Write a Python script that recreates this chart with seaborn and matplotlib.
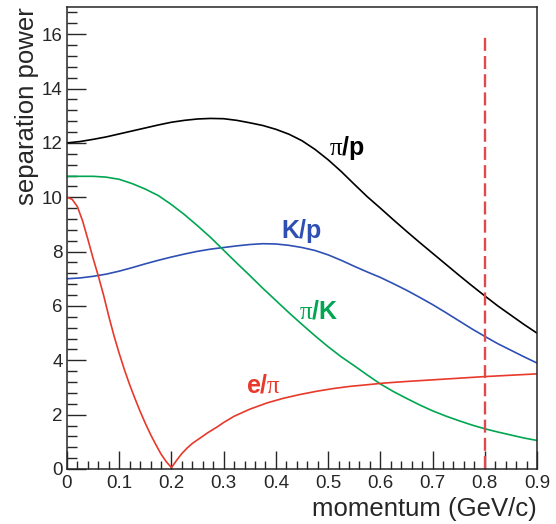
import numpy as np
import pandas as pd
import matplotlib
matplotlib.use("Agg")
import matplotlib.pyplot as plt
from matplotlib.ticker import MultipleLocator, FuncFormatter
import seaborn as sns

# Valores (momento em GeV/c)
momentum = [0.0, 0.025, 0.05, 0.075, 0.1, 0.125, 0.15, 0.175, 0.2, 0.225,
            0.25, 0.275, 0.3, 0.325, 0.35, 0.375, 0.4, 0.425, 0.45, 0.475,
            0.5, 0.525, 0.55, 0.575, 0.6, 0.625, 0.65, 0.675, 0.7, 0.725,
            0.75, 0.775, 0.8, 0.825, 0.85, 0.875, 0.9]
pi_p = [12.0, 12.05, 12.13, 12.22, 12.33, 12.44, 12.55, 12.66, 12.76, 12.83,
        12.88, 12.9, 12.89, 12.83, 12.74, 12.64, 12.5, 12.32, 12.08, 11.76,
        11.38, 10.95, 10.48, 10.02, 9.6, 9.17, 8.75, 8.34, 7.94, 7.54,
        7.14, 6.75, 6.37, 6.0, 5.66, 5.32, 5.0]
k_p = [7.0, 7.03, 7.09, 7.17, 7.28, 7.41, 7.55, 7.68, 7.8, 7.91,
       8.01, 8.09, 8.15, 8.21, 8.26, 8.29, 8.28, 8.23, 8.15, 8.04,
       7.88, 7.68, 7.46, 7.25, 7.05, 6.82, 6.58, 6.32, 6.05, 5.76,
       5.46, 5.16, 4.88, 4.61, 4.37, 4.13, 3.9]
pi_k = [10.77, 10.77, 10.77, 10.74, 10.66, 10.5, 10.3, 10.06, 9.73, 9.36,
        8.95, 8.52, 8.05, 7.58, 7.12, 6.65, 6.2, 5.75, 5.32, 4.9,
        4.5, 4.13, 3.8, 3.46, 3.13, 2.85, 2.6, 2.36, 2.14, 1.95,
        1.78, 1.62, 1.48, 1.36, 1.25, 1.14, 1.05]

e_momentum = [0.0, 0.01, 0.02, 0.03, 0.04, 0.05, 0.06, 0.07, 0.08, 0.09,
              0.10, 0.11, 0.12, 0.13, 0.14, 0.15, 0.16, 0.17, 0.18, 0.19,
              0.20, 0.21, 0.22, 0.23, 0.24, 0.255, 0.27, 0.287, 0.30, 0.32,
              0.35, 0.383, 0.414, 0.446, 0.478, 0.51, 0.542, 0.575, 0.606, 0.65,
              0.70, 0.75, 0.80, 0.85, 0.90]
e_pi = [10.0, 9.92, 9.65, 9.12, 8.45, 7.75, 7.1, 6.4, 5.62, 4.9,
        4.25, 3.65, 3.1, 2.6, 2.12, 1.68, 1.27, 0.9, 0.55, 0.27,
        0.05, 0.32, 0.57, 0.77, 0.94, 1.14, 1.34, 1.54, 1.71, 1.94,
        2.2, 2.43, 2.6, 2.74, 2.86, 2.96, 3.04, 3.1, 3.16, 3.22,
        3.28, 3.34, 3.4, 3.45, 3.5]

cut_momentum = 0.8
cut_top = 16

COR = {"pi/p": "#000000", "K/p": "#2e50b4", "pi/K": "#00a651", "e/pi": "#e8392b"}

df = pd.concat([
    pd.DataFrame({"p": momentum, "sep": pi_p, "par": "pi/p"}),
    pd.DataFrame({"p": momentum, "sep": k_p, "par": "K/p"}),
    pd.DataFrame({"p": momentum, "sep": pi_k, "par": "pi/K"}),
    pd.DataFrame({"p": e_momentum, "sep": e_pi, "par": "e/pi"}),
], ignore_index=True)

sns.set_style("ticks")
plt.rcParams["font.family"] = ["Liberation Sans", "DejaVu Sans"]
plt.rcParams["mathtext.fontset"] = "custom"
plt.rcParams["mathtext.it"] = "Liberation Serif"
plt.rcParams["mathtext.rm"] = "Liberation Serif"

fig = plt.figure(figsize=(5.56, 5.24), dpi=100)
ax = fig.add_axes([0.1205, 0.105, 0.8453, 0.8816])

sns.lineplot(data=df, x="p", y="sep", hue="par", palette=COR, estimator=None,
             sort=True, lw=1.2, legend=False, ax=ax)

# corte em 0.8 GeV/c
ax.plot([cut_momentum, cut_momentum], [0, cut_top], color="#e0494d", lw=1.7,
        ls=(0, (5.5, 2.2)))

# rótulos das curvas
ax.text(0.536, 11.57, r"$\pi$/p", color=COR["pi/p"], fontsize=18,
        fontweight="bold", ha="center", va="baseline")
ax.text(0.450, 8.5, "K/p", color=COR["K/p"], fontsize=18,
        fontweight="bold", ha="center", va="baseline")
ax.text(0.481, 5.55, r"$\pi$/K", color=COR["pi/K"], fontsize=18,
        fontweight="bold", ha="center", va="baseline")
ax.text(0.377, 2.81, r"e/$\pi$", color=COR["e/pi"], fontsize=18,
        fontweight="bold", ha="center", va="baseline")

ax.set_xlim(0, 0.9)
ax.set_ylim(0, 17)
ax.xaxis.set_major_locator(MultipleLocator(0.1))
ax.xaxis.set_minor_locator(MultipleLocator(0.02))
ax.yaxis.set_major_locator(MultipleLocator(2))
ax.yaxis.set_minor_locator(MultipleLocator(0.4))
ax.xaxis.set_major_formatter(FuncFormatter(lambda v, _: "0" if abs(v) < 1e-9 else f"{v:.1f}"))
ax.yaxis.set_major_formatter(FuncFormatter(lambda v, _: f"{v:.0f}"))

ax.tick_params(axis="x", which="major", direction="in", length=13, width=1.0,
               labelsize=13.5, pad=4, top=False)
ax.tick_params(axis="x", which="minor", direction="in", length=6, width=1.0, top=False)
ax.tick_params(axis="y", which="major", direction="in", length=14, width=1.0,
               labelsize=13.5, pad=3, right=False)
ax.tick_params(axis="y", which="minor", direction="in", length=7, width=1.0, right=False)

for s in ax.spines.values():
    s.set_linewidth(1.1)
    s.set_visible(True)

ax.set_xlabel("momentum (GeV/c)", fontsize=18.5, loc="right", labelpad=4)
ax.set_ylabel("separation power", fontsize=18.5, loc="top", labelpad=2)

plt.savefig("out.png", dpi=100)
plt.close()
